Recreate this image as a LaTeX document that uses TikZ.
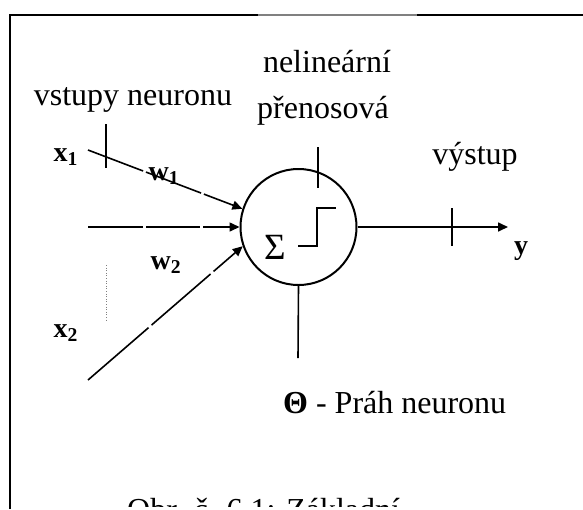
\documentclass[tikz,border=0pt]{standalone}
\usepackage{fontspec}
\setmainfont{Liberation Serif}
\usetikzlibrary{arrows.meta}
\begin{document}
\begin{tikzpicture}[x=1pt,y=-1pt,
  lbl/.style={inner sep=0pt,font=\fontsize{32}{36}\selectfont},
  blbl/.style={inner sep=0pt,font=\fontsize{28}{32}\selectfont\bfseries},
  wire/.style={line width=1.6pt},
  arr/.style={wire,-{Triangle[length=10pt,width=9pt]}},
  neuronbody/.style={circle,draw,line width=2pt,minimum size=116pt,inner sep=0pt}]
\useasboundingbox (0,0) rectangle (583,509);
% frame
\draw[line width=1.8pt] (10,509) -- (10,15) -- (258,15);
\draw[line width=1.3pt,gray] (258,15) -- (417,15);
\draw[line width=1.8pt] (417,15) -- (583,15);
% neuron
\node[neuronbody] (neuron) at (298.5,227) {};
\node[inner sep=0pt,font=\fontsize{37}{40}\selectfont] (sigma) at (275,247) {Σ};
\coordinate (s1) at (298,246); \coordinate (s2) at (317,246);
\coordinate (s3) at (317,208); \coordinate (s4) at (336,208);
\draw[line width=1.8pt] (s1) -- (s2) -- (s3) -- (s4);
% inputs
\coordinate (in1) at (88,150);
\coordinate (in2) at (88,227);
\coordinate (in3) at (88,380);
\draw[arr,dash pattern=on 59pt off 3pt on 59pt off 3pt on 300pt] (in1) -- (neuron.162);
\draw[arr,dash pattern=on 55pt off 3pt on 54pt off 3pt on 300pt] (in2) -- (neuron.west);
\draw[arr,dash pattern=on 80pt off 4pt on 78pt off 4pt on 300pt] (in3) -- (neuron.199);
\coordinate (t1a) at (106,124); \coordinate (t1b) at (106,168);
\draw[wire] (t1a) -- (t1b);
\coordinate (d1) at (106,265); \coordinate (d2) at (106,322);
\draw[line width=0.6pt,gray,dotted] (d1) -- (d2);
% output
\coordinate (out) at (508,227);
\draw[arr] (neuron.east) -- (out);
\coordinate (t2a) at (452,208); \coordinate (t2b) at (452,246);
\draw[wire] (t2a) -- (t2b);
% transfer and threshold lines
\coordinate (p1) at (318,147); \coordinate (p2) at (318,188);
\draw[wire] (p1) -- (p2);
\coordinate (th) at (298,358);
\draw[wire] (neuron.south) -- (th);
% labels
\node[lbl] (nel) at (327,62) {nelineární};
\node[lbl] (pren) at (323,111) {přenosová};
\node[lbl] (vst) at (133,100) {vstupy neuronu};
\node[lbl] (vys) at (475,157) {výstup};
\node[blbl,anchor=east] (x1) at (78,157) {x\textsubscript{1}};
\node[blbl] (w1) at (164,176) {w\textsubscript{1}};
\node[blbl] (w2) at (166,265) {w\textsubscript{2}};
\node[blbl,anchor=east] (x2) at (78,333) {x\textsubscript{2}};
\node[blbl] (y) at (521,251) {y};
\node[lbl,anchor=west] (prah) at (283,403) {\textbf{Θ} - Práh neuronu};
\begin{scope}
\clip (0,0) rectangle (583,506);
\node[lbl,anchor=base west] (cap) at (127,520) {Obr. č. 6.1: Základní};
\end{scope}
\end{tikzpicture}
\end{document}
